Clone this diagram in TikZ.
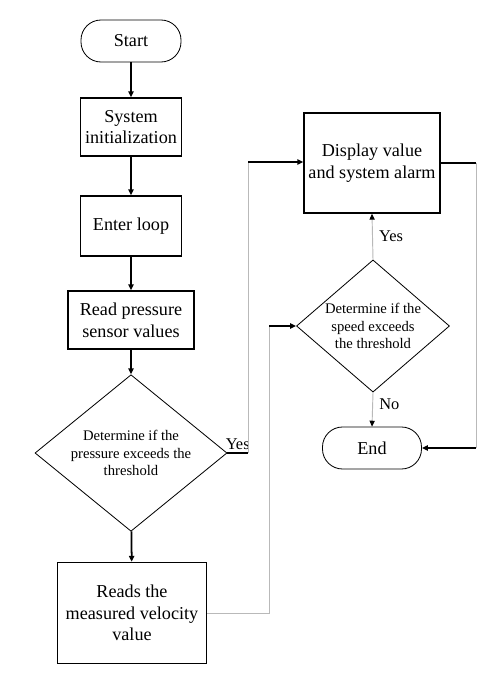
\documentclass[tikz,border=0pt]{standalone}
\usepackage{fontspec}
\setmainfont{Liberation Serif}
\usetikzlibrary{arrows.meta, shapes.geometric}

\begin{document}
\begin{tikzpicture}[
    x=0.03cm,
    y=-0.03cm,
    >={Triangle[length=5pt, width=4.5pt, color=black]},
    box/.style={draw, line width=1.3pt, align=center, font=\fontsize{15.5}{18.5}\selectfont},
    term/.style={draw, line width=0.7pt, rounded corners=0.6cm, align=center,
        minimum width=3cm, minimum height=1.26cm, font=\fontsize{15.5}{18.5}\selectfont},
    decide/.style={diamond, draw, line width=0.7pt, align=center, inner sep=-2pt,
        font=\fontsize{12.5}{15}\selectfont},
    mainline/.style={line width=1.5pt},
    sideline/.style={line width=0.8pt, gray!55},
    tag/.style={font=\fontsize{14}{16}\selectfont}
]

\useasboundingbox (0,0) rectangle (498,678);

% Line positions
\def\xYes{248}
\def\xRt{476}
\def\xVel{269}

% =========================
% Main column
% =========================
\node[term] (start) at (131,41) {Start};
\node[box, minimum width=3.03cm, minimum height=1.74cm] (init) at (131,127) {System\\initialization};
\node[box, minimum width=3.03cm, minimum height=1.8cm] (loop) at (131,226) {Enter loop};
\node[box, minimum width=3.78cm, minimum height=1.74cm] (read) at (131,320) {Read pressure\\sensor values};
\node[decide, minimum width=5.76cm, minimum height=4.38cm] (d1) at (131,453)
    {Determine if the\\pressure exceeds the\\threshold};
\node[box, minimum width=4.47cm, minimum height=3.03cm] (vel) at (132,613)
    {Reads the\\measured velocity\\value};

\draw[mainline, ->] (start) -- (init);
\draw[mainline, ->] (init) -- (loop);
\draw[mainline, ->] (loop) -- (read);
\draw[mainline, ->] (read) -- (d1);
\draw[mainline, ->] (d1) -- (vel);

% =========================
% Right column
% =========================
\node[box, minimum width=4.08cm, minimum height=3cm] (disp) at (372,163) {Display value\\and system alarm};
\node[decide, minimum width=4.59cm, minimum height=3.42cm] (d2) at (373,326)
    {Determine if the\\speed exceeds\\the threshold};
\node[term, minimum width=2.97cm] (end) at (372,448) {End};

\draw[sideline, ->] (d2.north) -- node[tag, black, right=2pt, pos=0.5] {Yes} (disp.south);
\draw[sideline, ->] (d2.south) -- node[tag, black, right=2pt, pos=0.35] {No} (end.north);

% Yes branch of pressure check
\coordinate (yes1) at (\xYes,453);
\coordinate (yes2) at (\xYes,162);
\draw[mainline] (d1.east) -- node[tag, above=-1pt] {Yes} (yes1);
\draw[sideline] (yes1) -- (yes2);
\draw[mainline, ->] (yes2) -- (yes2 -| disp.west);

% Display back to end
\coordinate (rt1) at (\xRt,163);
\coordinate (rt2) at (\xRt,448);
\draw[mainline] (disp.east) -- (rt1);
\draw[sideline] (rt1) -- (rt2);
\draw[mainline, ->] (rt2) -- (end.east);

% Velocity to speed check
\coordinate (vl1) at (\xVel,613);
\coordinate (vl2) at (\xVel,326);
\draw[sideline] (vel.east) -- (vl1) -- (vl2);
\draw[mainline, ->] (vl2) -- (d2.west);

\end{tikzpicture}
\end{document}
